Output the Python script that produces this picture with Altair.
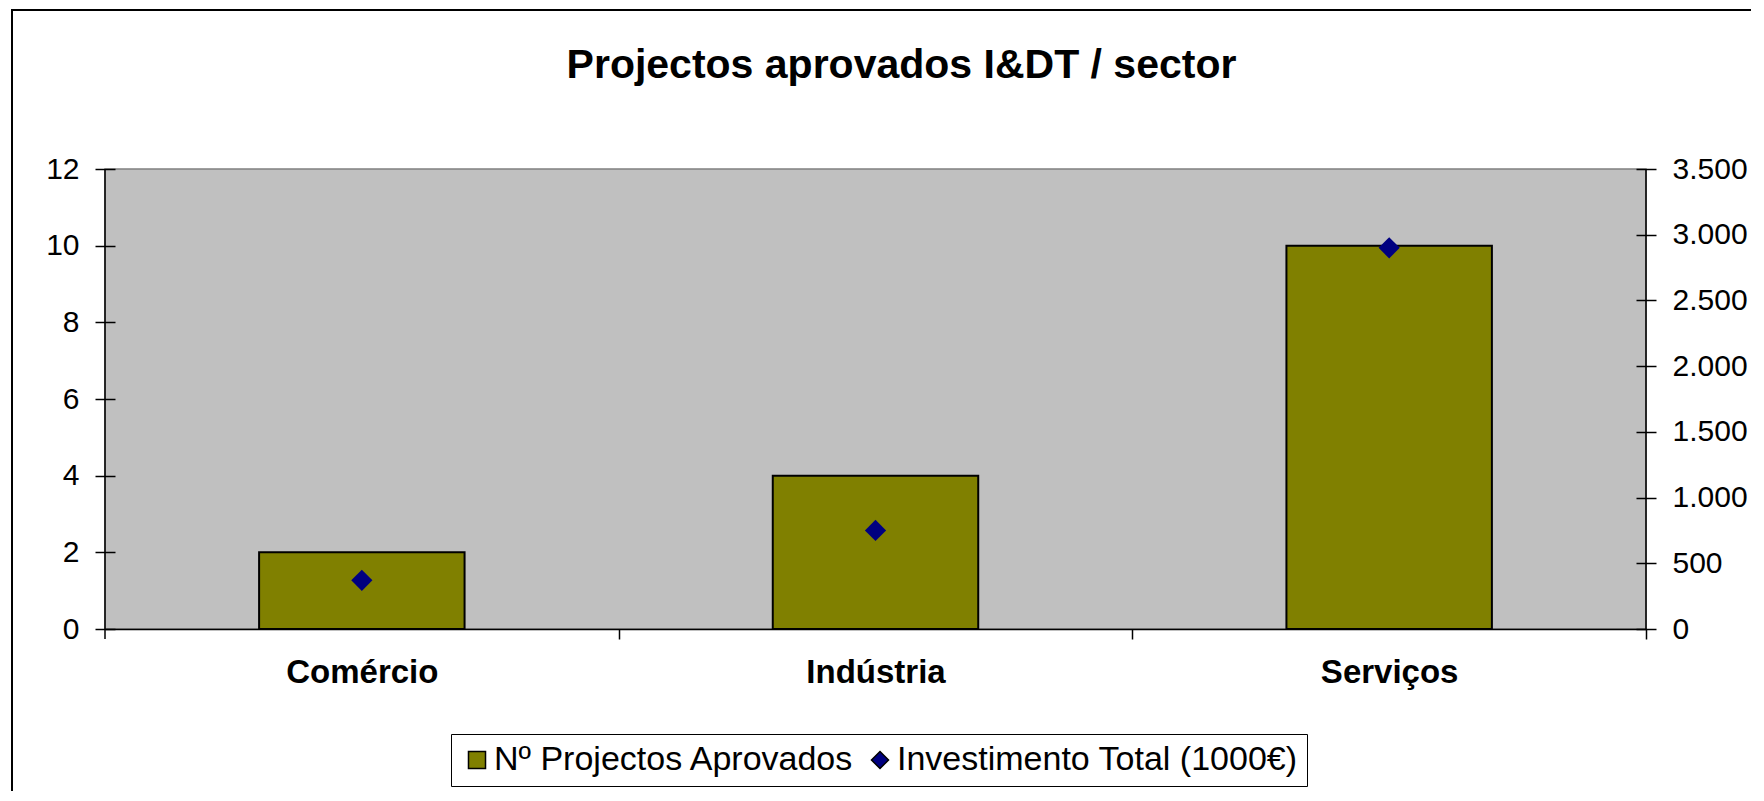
import altair as alt
import pandas as pd

# ---- data ----
sectores = ["Comércio", "Indústria", "Serviços"]
projectos = [2, 4, 10]
investimento = [370, 750, 2900]
left_ticks = [0, 2, 4, 6, 8, 10, 12]
right_ticks = [0, 500, 1000, 1500, 2000, 2500, 3000, 3500]
serie_bar = "Nº Projectos Aprovados"
serie_pt = "Investimento Total (1000€)"
titulo = "Projectos aprovados I&DT / sector"

df = pd.DataFrame({"sector": sectores, "projectos": projectos, "investimento": investimento})

FONT = "Liberation Sans"
W, H = 1541, 460
HALF_STEP = W / len(sectores) / 2

x_enc = alt.X(
    "sector:N", sort=sectores,
    scale=alt.Scale(paddingInner=0.6, paddingOuter=0.3),
    axis=alt.Axis(title=None, labelAngle=0, labelFontSize=33, labelFontWeight="bold",
                  labelColor="black", labelFont=FONT, tickOffset=HALF_STEP,
                  labelOffset=-HALF_STEP, tickSize=10,
                  tickColor="black", tickWidth=1.5, domainColor="black", domainWidth=1.5,
                  labelPadding=17),
)

color_scale = alt.Scale(domain=[serie_bar, serie_pt], range=["#808000", "#000080"])
shape_scale = alt.Scale(domain=[serie_bar, serie_pt], range=["square", "diamond"])

legend = alt.Legend(
    title=None, orient="none", legendX=346, legendY=565, direction="horizontal",
    labelFontSize=34, labelFont=FONT, labelColor="black", labelLimit=1000,
    symbolSize=290, symbolStrokeColor="black", symbolStrokeWidth=1.5,
    padding=9, strokeColor="black", fillColor="white", columnPadding=8,
    labelOffset=0,
)

bars = alt.Chart(df).transform_calculate(serie=f"'{serie_bar}'").mark_bar(
    stroke="black", strokeWidth=2
).encode(
    x=x_enc,
    y=alt.Y("projectos:Q", scale=alt.Scale(domain=[0, 12], nice=False),
            axis=alt.Axis(orient="left", values=left_ticks, offset=-10, tickSize=20,
                          domain=False, grid=False, labelFontSize=30, labelFont=FONT,
                          labelColor="black", labelPadding=16, tickColor="black",
                          tickWidth=1.5, title=None)),
    color=alt.Color("serie:N", scale=color_scale, legend=legend),
)

points = alt.Chart(df).transform_calculate(serie=f"'{serie_pt}'").mark_point(
    filled=True, size=450, opacity=1
).encode(
    x=x_enc,
    y=alt.Y("investimento:Q", scale=alt.Scale(domain=[0, 3500], nice=False),
            axis=alt.Axis(orient="right", values=right_ticks, offset=-10, tickSize=20,
                          domain=False, grid=False, labelFontSize=30, labelFont=FONT,
                          labelColor="black", labelPadding=16, tickColor="black",
                          tickWidth=1.5, title=None,
                          labelExpr="replace(format(datum.value, ','), ',', '.')")),
    color=alt.Color("serie:N", scale=color_scale, legend=legend),
    shape=alt.Shape("serie:N", scale=shape_scale, legend=legend),
)

one = alt.Data(values=[{"a": 1}])
left_line = alt.Chart(one).mark_rule(color="black", strokeWidth=1.5, clip=False).encode(
    x=alt.value(0), y=alt.value(0), y2=alt.value(H + 10))
right_line = alt.Chart(one).mark_rule(color="black", strokeWidth=1.5).encode(x=alt.value(W))
frame = alt.Chart(one).mark_rect(filled=False, stroke="black", strokeWidth=2, clip=False).encode(
    x=alt.value(-93), x2=alt.value(1700), y=alt.value(-159), y2=alt.value(700)
)

chart = alt.layer(frame, bars, points, left_line, right_line).resolve_scale(
    y="independent"
).properties(
    width=W, height=H,
    autosize=alt.AutoSizeParams(type="none"),
    padding={"left": 97, "top": 161, "right": 105, "bottom": 162},
    title=alt.Title(titulo, fontSize=41, fontWeight="bold", font=FONT, color="black",
                    anchor="middle", frame="group", offset=-110, baseline="alphabetic", dx=26),
    background="white",
).configure_view(fill="#C0C0C0", stroke="#808080", strokeWidth=1.5)

chart.save("out.html", embed_options={"renderer": "svg", "actions": False})
